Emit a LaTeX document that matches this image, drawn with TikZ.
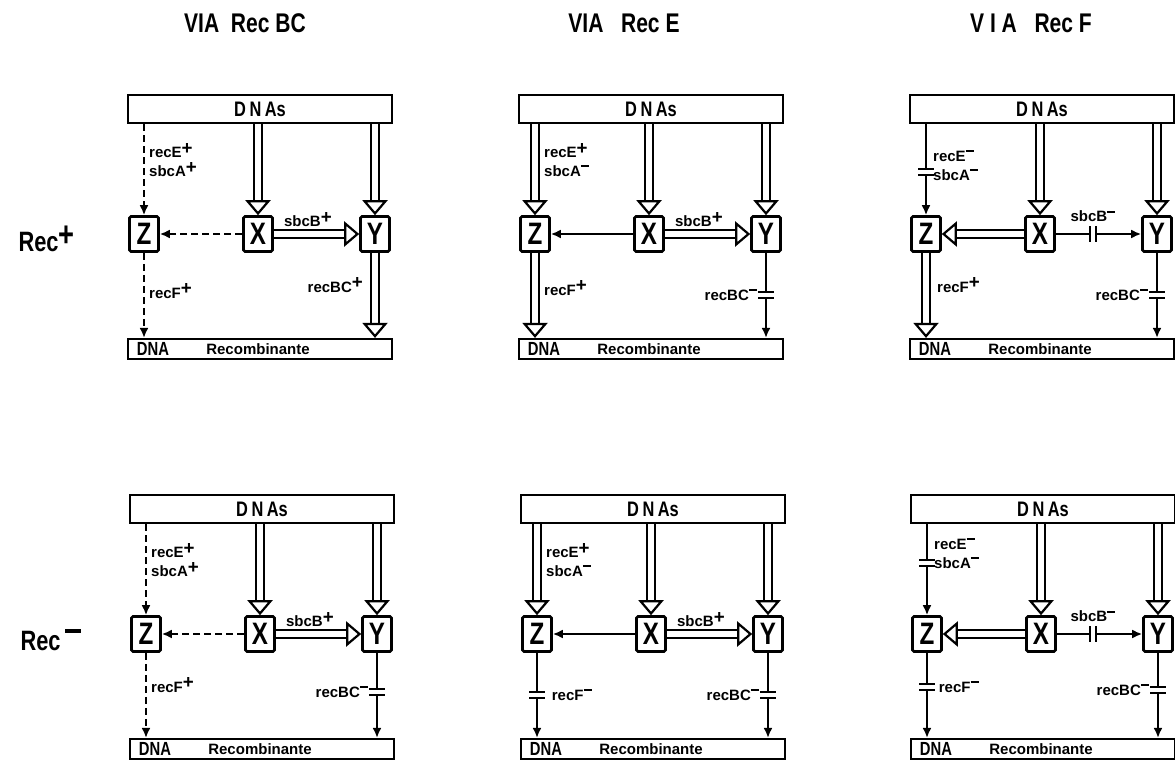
\documentclass[tikz,border=0pt]{standalone}
\usepackage{fontspec}
\setmainfont{Liberation Sans}
\newfontfamily\condfont{Liberation Sans}[FakeStretch=0.78]
\usepackage{tikz}
\usetikzlibrary{arrows.meta,positioning,calc}
\newcommand{\gplus}{\raisebox{.4ex}{\scalebox{1.25}{+}}}
\newcommand{\gminus}{\rule[.62em]{.55em}{.13em}}

\begin{document}
\begin{tikzpicture}[x=1pt,y=-1pt,
  bar/.style={draw,line width=2.2pt,minimum width=264pt,minimum height=28pt,inner sep=0pt,
    font=\condfont\bfseries\fontsize{21}{21}\selectfont},
  recbar/.style={draw,line width=2.2pt,minimum width=264pt,minimum height=20pt,inner sep=0pt},
  bartext/.style={inner sep=0pt,font=\condfont\bfseries\fontsize{19}{19}\selectfont},
  box/.style={draw,line width=2.6pt,rounded corners=1.5pt,minimum width=29pt,minimum height=35pt,
    inner sep=0pt,font=\condfont\bfseries\fontsize{31}{31}\selectfont},
  lbl/.style={anchor=west,align=left,inner sep=1pt,font=\bfseries\fontsize{15}{19}\selectfont},
  title/.style={font=\condfont\bfseries\fontsize{27}{27}\selectfont},
  rowlab/.style={anchor=base west,font=\condfont\bfseries\fontsize{28}{28}\selectfont},
  ln/.style={line width=2.4pt},
  sgl/.style={ln,-{Latex[length=10pt,width=9pt]}},
  dsh/.style={sgl,dash pattern=on 7pt off 4pt},
  dbl/.style={double,double distance=6pt,line width=2.3pt,
    -{Triangle[open,length=15pt,width=25pt,line width=2.2pt]}},
  blkv/.style={inner sep=0pt,minimum width=15pt,minimum height=6pt,
    append after command={\pgfextra{\draw[line width=2.4pt]
      (\tikzlastnode.north west) -- (\tikzlastnode.north east)
      (\tikzlastnode.south west) -- (\tikzlastnode.south east);}}},
  blkh/.style={inner sep=0pt,minimum width=6pt,minimum height=15pt,
    append after command={\pgfextra{\draw[line width=2.4pt]
      (\tikzlastnode.north west) -- (\tikzlastnode.south west)
      (\tikzlastnode.north east) -- (\tikzlastnode.south east);}}}
]
\useasboundingbox (0,0) rectangle (1175,767);

% column titles and row labels
\node[title] (t1) at (245,23) {VIA\ \ Rec BC};
\node[title] (t2) at (624,23) {VIA\ \ \ Rec E};
\node[title] (t3) at (1031,23) {V I A\ \ \ Rec F};
\node[rowlab] (r1) at (15,252) {Rec\gplus};
\node[rowlab] (r2) at (17,650) {Rec\,\gminus};

% parts common to the six panels
\foreach \p/\ox/\oy in {a/128/95,b/519/95,c/910/95,d/130/495,e/521/495,f/911/495}{
  \begin{scope}[shift={(\ox,\oy)}]
    \node[bar] (\p-dnas) at (132,14) {D\,N\,As};
    \node[recbar] (\p-rec) at (132,254) {};
    \node[bartext] (\p-dna) at (25,254) {DNA};
    \node[bartext,font=\bfseries\fontsize{15}{15}\selectfont] (\p-recomb) at (130,254) {Recombinante};
    \node[box] (\p-z) at (16,139) {Z};
    \node[box] (\p-x) at (130,139) {X};
    \node[box] (\p-y) at (247,139) {Y};
    \draw[dbl] (\p-x.north |- \p-dnas.south) -- (\p-x);
    \draw[dbl] (\p-y.north |- \p-dnas.south) -- (\p-y);
  \end{scope}
}

% Rec+ , via RecBC
\begin{scope}[shift={(128,95)}]
\draw[dsh] (a-z.north |- a-dnas.south) -- (a-z);
\node[lbl] (a-le) at (20,65) {recE\gplus\\sbcA\gplus};
\draw[dsh] (a-z) -- (a-z.south |- a-rec.north);
\node[lbl] (a-lf) at (20,196) {recF\gplus};
\draw[dsh] (a-x) -- (a-z);
\draw[dbl] (a-x) -- node[lbl,anchor=south,pos=0.4,yshift=5pt] (a-lb) {sbcB\gplus} (a-y);
\draw[dbl] (a-y) -- (a-y.south |- a-rec.north);
\node[lbl,anchor=east] (a-lbc) at (236,190) {recBC\gplus};
\end{scope}

% Rec+ , via RecE
\begin{scope}[shift={(519,95)}]
\draw[dbl] (b-z.north |- b-dnas.south) -- (b-z);
\node[lbl] (b-le) at (24,65) {recE\gplus\\sbcA\gminus};
\draw[dbl] (b-z) -- (b-z.south |- b-rec.north);
\node[lbl] (b-lf) at (24,193) {recF\gplus};
\draw[sgl] (b-x) -- (b-z);
\draw[dbl] (b-x) -- node[lbl,anchor=south,pos=0.4,yshift=5pt] (b-lb) {sbcB\gplus} (b-y);
\node[blkv] (b-yb) at (247,200) {};
\draw[ln] (b-y) -- (b-yb);
\draw[sgl] (b-yb) -- (b-yb |- b-rec.north);
\node[lbl,anchor=east] (b-lbc) at (b-yb.west) {recBC\gminus};
\end{scope}

% Rec+ , via RecF
\begin{scope}[shift={(910,95)}]
\node[blkv] (c-zb) at (16,77) {};
\draw[ln] (c-z.north |- c-dnas.south) -- (c-zb);
\draw[sgl] (c-zb) -- (c-z);
\node[lbl] (c-le) at (22,70) {recE\gminus\\sbcA\gminus};
\draw[dbl] (c-z) -- (c-z.south |- c-rec.north);
\node[lbl] (c-lf) at (26,190) {recF\gplus};
\draw[dbl] (c-x) -- (c-z);
\node[blkh] (c-xb) at (183,139) {};
\draw[ln] (c-x) -- (c-xb);
\draw[sgl] (c-xb) -- (c-y);
\node[lbl,anchor=south,above=3pt of c-xb] (c-lb) {sbcB\gminus};
\node[blkv] (c-yb) at (247,200) {};
\draw[ln] (c-y) -- (c-yb);
\draw[sgl] (c-yb) -- (c-yb |- c-rec.north);
\node[lbl,anchor=east] (c-lbc) at (c-yb.west) {recBC\gminus};
\end{scope}

% Rec- , via RecBC
\begin{scope}[shift={(130,495)}]
\draw[dsh] (d-z.north |- d-dnas.south) -- (d-z);
\node[lbl] (d-le) at (20,65) {recE\gplus\\sbcA\gplus};
\draw[dsh] (d-z) -- (d-z.south |- d-rec.north);
\node[lbl] (d-lf) at (20,190) {recF\gplus};
\draw[dsh] (d-x) -- (d-z);
\draw[dbl] (d-x) -- node[lbl,anchor=south,pos=0.4,yshift=5pt] (d-lb) {sbcB\gplus} (d-y);
\node[blkv] (d-yb) at (247,197) {};
\draw[ln] (d-y) -- (d-yb);
\draw[sgl] (d-yb) -- (d-yb |- d-rec.north);
\node[lbl,anchor=east] (d-lbc) at (d-yb.west) {recBC\gminus};
\end{scope}

% Rec- , via RecE
\begin{scope}[shift={(521,495)}]
\draw[dbl] (e-z.north |- e-dnas.south) -- (e-z);
\node[lbl] (e-le) at (24,65) {recE\gplus\\sbcA\gminus};
\node[blkv] (e-zb) at (16,200) {};
\draw[ln] (e-z) -- (e-zb);
\draw[sgl] (e-zb) -- (e-zb |- e-rec.north);
\node[lbl,right=6pt of e-zb] (e-lf) {recF\gminus};
\draw[sgl] (e-x) -- (e-z);
\draw[dbl] (e-x) -- node[lbl,anchor=south,pos=0.4,yshift=5pt] (e-lb) {sbcB\gplus} (e-y);
\node[blkv] (e-yb) at (247,200) {};
\draw[ln] (e-y) -- (e-yb);
\draw[sgl] (e-yb) -- (e-yb |- e-rec.north);
\node[lbl,anchor=east] (e-lbc) at (e-yb.west) {recBC\gminus};
\end{scope}

% Rec- , via RecF
\begin{scope}[shift={(911,495)}]
\node[blkv] (f-zb) at (16,68) {};
\draw[ln] (f-z.north |- f-dnas.south) -- (f-zb);
\draw[sgl] (f-zb) -- (f-z);
\node[lbl] (f-le) at (22,58) {recE\gminus\\sbcA\gminus};
\node[blkv] (f-zb2) at (16,192) {};
\draw[ln] (f-z) -- (f-zb2);
\draw[sgl] (f-zb2) -- (f-zb2 |- f-rec.north);
\node[lbl,right=3pt of f-zb2] (f-lf) {recF\gminus};
\draw[dbl] (f-x) -- (f-z);
\node[blkh] (f-xb) at (182,139) {};
\draw[ln] (f-x) -- (f-xb);
\draw[sgl] (f-xb) -- (f-y);
\node[lbl,anchor=south,above=3pt of f-xb] (f-lb) {sbcB\gminus};
\node[blkv] (f-yb) at (247,195) {};
\draw[ln] (f-y) -- (f-yb);
\draw[sgl] (f-yb) -- (f-yb |- f-rec.north);
\node[lbl,anchor=east] (f-lbc) at (f-yb.west) {recBC\gminus};
\end{scope}
\end{tikzpicture}
\end{document}
